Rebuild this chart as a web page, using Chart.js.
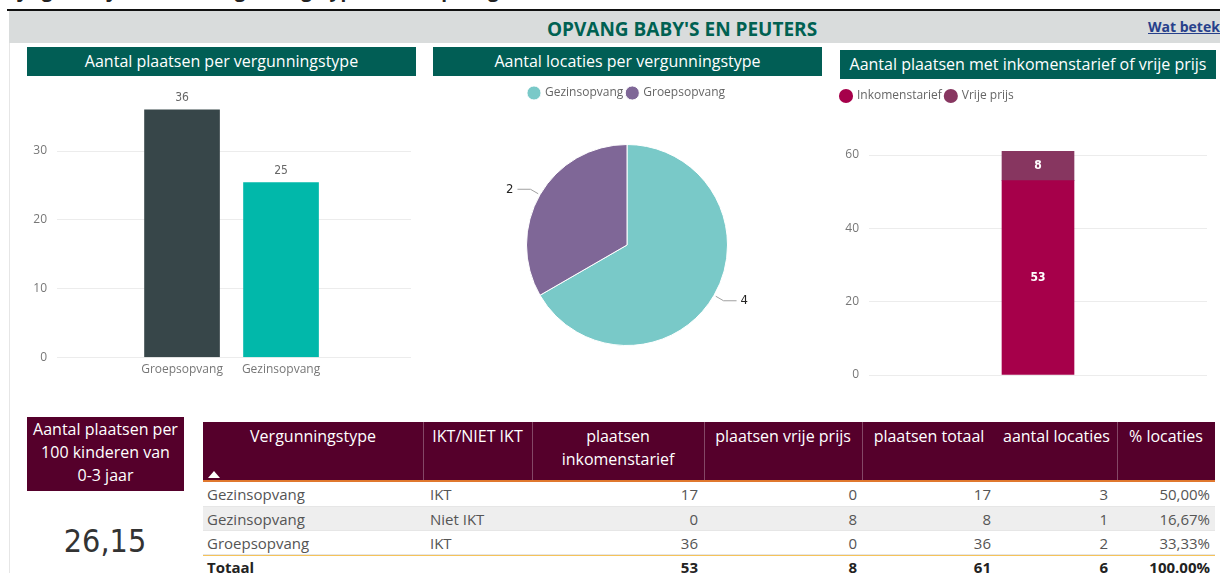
<!DOCTYPE html>
<html><head><meta charset="utf-8">
<script src="https://cdn.jsdelivr.net/npm/chart.js@4.4.0/dist/chart.umd.min.js"></script>
<style>
html,body{margin:0;padding:0}
body{width:1220px;height:573px;overflow:hidden;background:#fff;font-family:"Open Sans",sans-serif;position:relative}
.abs{position:absolute}
.ptitle{position:absolute;background:#015e55;color:#fff;font-size:16px;line-height:29px;height:29px;text-align:center;white-space:nowrap}
.cell{position:absolute;white-space:nowrap;font-size:15px;line-height:24px;color:#555}
.hcell{position:absolute;white-space:nowrap;font-size:16px;line-height:23px;color:#fff;text-align:center}
</style></head>
<body>
<div class="abs" style="left:0;top:-23px;font-size:19px;font-weight:bold;color:#222;white-space:nowrap">Bijlage 2: Cijfers naar vergunningstypes in de opvang</div>
<div class="abs" style="left:7px;top:9px;width:1213px;height:2px;background:#111"></div>
<div class="abs" style="left:9px;top:11px;width:1211px;height:32px;background:#d9dcdc"></div>
<div class="abs" style="left:9px;top:43px;width:1px;height:530px;background:#e6e6e6"></div>
<div class="abs" style="left:432px;top:16px;width:500px;text-align:center;font-size:19px;font-weight:bold;color:#006152;line-height:26px">OPVANG BABY'S EN PEUTERS</div>
<div class="abs" style="left:1148px;top:16px;font-size:14px;font-weight:bold;color:#27408b;text-decoration:underline;white-space:nowrap;line-height:22px">Wat betekenen deze cijfers?</div>

<div class="ptitle" style="left:27px;top:47px;width:389px">Aantal plaatsen per vergunningstype</div>
<div class="ptitle" style="left:433px;top:47px;width:389px">Aantal locaties per vergunningstype</div>
<div class="ptitle" style="left:840px;top:50px;width:376px">Aantal plaatsen met inkomenstarief of vrije prijs</div>

<div class="abs" style="left:20px;top:85px;width:400px;height:300px"><canvas id="c1"></canvas></div>
<div class="abs" style="left:430px;top:81px;width:400px;height:300px"><canvas id="c2"></canvas></div>
<div class="abs" style="left:830px;top:84px;width:390px;height:300px"><canvas id="c3"></canvas></div>

<div class="abs" style="left:27px;top:417px;width:157px;height:74px;background:#55002b"></div>
<div class="abs" id="kpiTitle" style="left:17px;top:418px;width:177px;text-align:center;color:#fff;font-size:16px;line-height:23px"></div>
<div class="abs" id="kpiValue" style="left:25px;top:520px;width:160px;text-align:center;color:#333;font-size:32px;line-height:42px;font-family:'DejaVu Sans Condensed','DejaVu Sans',sans-serif"></div>

<div id="table"></div>

<script>
// ---------- data ----------
const placesCategories = ['Groepsopvang', 'Gezinsopvang'];
const placesValues = [36, 25.4];
const placesTicks = [0, 10, 20, 30];

const locationCategories = ['Gezinsopvang', 'Groepsopvang'];
const locationValues = [4, 2];

const tariffSeries = ['Inkomenstarief', 'Vrije prijs'];
const incomeValues = [53];
const freeValues = [8];
const tariffTicks = [0, 20, 40, 60];

const kpiLabel = ['Aantal plaatsen per', '100 kinderen van', '0-3 jaar'];
const kpiValue = '26,15';

const tableHeaders = ['Vergunningstype', 'IKT/NIET IKT', 'plaatsen<br>inkomenstarief', 'plaatsen vrije prijs', 'plaatsen totaal', 'aantal locaties', '% locaties'];
const tableTypes = ['Gezinsopvang', 'Gezinsopvang', 'Groepsopvang'];
const tableIkt = ['IKT', 'Niet IKT', 'IKT'];
const tableIncome = [17, 0, 36];
const tableFree = [0, 8, 0];
const tableTotal = [17, 8, 36];
const tableLocations = [3, 1, 2];
const tablePct = ['50,00%', '16,67%', '33,33%'];
const tableTotals = ['Totaal', '', '53', '8', '61', '6', '100.00%'];

// ---------- colours ----------
const C = {
  bar1: ['#374649', '#01b8aa'],
  pie: ['#79c9c8', '#7f6797'],
  income: '#a6004a',
  free: '#873660',
  tick: '#777',
  grid: '#ececec'
};
const tickFont = {family: 'Open Sans', size: 12};
const legendFont = {family: 'Open Sans', size: 12};
const dinFont = '"DejaVu Sans Condensed","DejaVu Sans",sans-serif';

function noScalePadding(s) {
  s.paddingTop = 0; s.paddingBottom = 0; s.paddingLeft = 0; s.paddingRight = 0;
}

// ---------- chart 1 ----------
const barTopLabels = {
  id: 'barTopLabels',
  afterDatasetsDraw(chart) {
    const ctx = chart.ctx, meta = chart.getDatasetMeta(0);
    ctx.save();
    ctx.font = '12px ' + dinFont;
    ctx.fillStyle = '#666';
    ctx.textAlign = 'center';
    ctx.textBaseline = 'bottom';
    meta.data.forEach((el, i) => ctx.fillText(String(Math.round(placesValues[i])), el.x, el.y - 6));
    ctx.restore();
  }
};
new Chart(document.getElementById('c1'), {
  type: 'bar',
  data: {
    datasets: [{
      data: placesCategories.map((c, i) => ({x: i, y: placesValues[i]})),
      backgroundColor: C.bar1,
      barThickness: 75,
      borderWidth: 0
    }]
  },
  options: {
    responsive: true, maintainAspectRatio: false, animation: false,
    layout: {padding: {top: 11, right: 9, left: 0, bottom: 0}},
    plugins: {legend: {display: false}, tooltip: {enabled: false}},
    scales: {
      x: {
        type: 'linear', min: -1.263, max: 2.313, offset: false, bounds: 'data',
        grid: {display: false, drawTicks: false}, border: {display: false},
        afterBuildTicks: s => { s.ticks = placesCategories.map((c, i) => ({value: i})); },
        afterFit: s => { s.height = 27.7; noScalePadding(s); },
        ticks: {callback: v => placesCategories[v] || '', color: C.tick, font: tickFont, padding: 5, autoSkip: false, maxRotation: 0}
      },
      y: {
        min: 0, max: 38,
        afterBuildTicks: s => { s.ticks = placesTicks.map(v => ({value: v})); },
        afterFit: s => { s.width = 37; noScalePadding(s); },
        grid: {color: C.grid, drawTicks: false}, border: {display: false},
        ticks: {color: C.tick, font: tickFont, padding: 10}
      }
    }
  },
  plugins: [barTopLabels]
});

// ---------- chart 2 ----------
function legendBox(h, shiftX, shiftY) {
  return {
    id: 'legendBox',
    beforeInit(chart) {
      const orig = chart.legend.fit;
      chart.legend.fit = function () { orig.call(this); this.height = h; };
    },
    afterLayout(chart) {
      const lg = chart.legend;
      lg.left += shiftX; lg.right += shiftX;
      lg.top += shiftY; lg.bottom += shiftY;
    }
  };
}
const pieLabels = {
  id: 'pieLabels',
  afterDatasetsDraw(chart) {
    const ctx = chart.ctx, meta = chart.getDatasetMeta(0);
    ctx.save();
    ctx.strokeStyle = '#a0a0a0';
    ctx.lineWidth = 1;
    ctx.fillStyle = '#252423';
    ctx.font = '13px ' + dinFont;
    ctx.textBaseline = 'middle';
    meta.data.forEach((el, i) => {
      const a = (el.startAngle + el.endAngle) / 2;
      const r = el.outerRadius;
      const dx = Math.cos(a), dy = Math.sin(a);
      const x0 = el.x + dx * (r + 2), y0 = el.y + dy * (r + 2);
      const x1 = el.x + dx * (r + 11), y1 = el.y + dy * (r + 11);
      const s = dx >= 0 ? 1 : -1;
      const x2 = x1 + s * 13;
      ctx.beginPath(); ctx.moveTo(x0, y0); ctx.lineTo(x1, y1); ctx.lineTo(x2, y1); ctx.stroke();
      ctx.textAlign = s > 0 ? 'left' : 'right';
      ctx.fillText(String(locationValues[i]), x2 + s * 4, y1);
    });
    ctx.restore();
  }
};
new Chart(document.getElementById('c2'), {
  type: 'pie',
  data: {
    labels: locationCategories,
    datasets: [{data: locationValues, backgroundColor: C.pie, borderColor: '#fff', borderWidth: 1}]
  },
  options: {
    responsive: true, maintainAspectRatio: false, animation: false,
    layout: {padding: {top: 0, right: 6, left: 0, bottom: 35}},
    plugins: {
      tooltip: {enabled: false},
      legend: {
        position: 'top', align: 'center',
        labels: {usePointStyle: true, pointStyle: 'circle', boxWidth: 10, boxHeight: 10, padding: 4, color: '#666', font: legendFont}
      }
    }
  },
  plugins: [legendBox(63, 0, 2), pieLabels]
});

// ---------- chart 3 ----------
const stackLabels = {
  id: 'stackLabels',
  afterDatasetsDraw(chart) {
    const ctx = chart.ctx;
    ctx.save();
    ctx.font = 'bold 12px ' + dinFont;
    ctx.fillStyle = '#fff';
    ctx.textAlign = 'center';
    ctx.textBaseline = 'middle';
    chart.data.datasets.forEach((ds, di) => {
      chart.getDatasetMeta(di).data.forEach((el, i) => {
        ctx.fillText(String(ds.data[i]), el.x, (el.y + el.base) / 2);
      });
    });
    ctx.restore();
  }
};
new Chart(document.getElementById('c3'), {
  type: 'bar',
  data: {
    labels: [''],
    datasets: [
      {label: tariffSeries[0], data: incomeValues, backgroundColor: C.income, barThickness: 72, borderWidth: 0},
      {label: tariffSeries[1], data: freeValues, backgroundColor: C.free, barThickness: 72, borderWidth: 0}
    ]
  },
  options: {
    responsive: true, maintainAspectRatio: false, animation: false,
    layout: {padding: {top: 0, right: 13, left: 0, bottom: 9}},
    plugins: {
      tooltip: {enabled: false},
      legend: {
        position: 'top', align: 'start',
        labels: {usePointStyle: true, pointStyle: 'circle', boxWidth: 10, boxHeight: 10, padding: 4, color: '#666', font: legendFont}
      }
    },
    scales: {
      x: {stacked: true, display: false},
      y: {
        stacked: true, min: 0, max: 65,
        afterBuildTicks: s => { s.ticks = tariffTicks.map(v => ({value: v})); },
        afterFit: s => { s.width = 39; noScalePadding(s); },
        grid: {color: C.grid, drawTicks: false}, border: {display: false},
        ticks: {color: C.tick, font: tickFont, padding: 10}
      }
    }
  },
  plugins: [legendBox(52.7, 7, 2), stackLabels]
});

// ---------- KPI ----------
document.getElementById('kpiTitle').innerHTML = kpiLabel.join('<br>');
document.getElementById('kpiValue').textContent = kpiValue;

// ---------- table ----------
const cols = [
  {l: 203, r: 423, align: 'left', pad: 4},
  {l: 423, r: 532, align: 'left', pad: 7},
  {l: 532, r: 704, align: 'right', pad: 6},
  {l: 704, r: 862, align: 'right', pad: 5},
  {l: 862, r: 996, align: 'right', pad: 5},
  {l: 996, r: 1117, align: 'right', pad: 9},
  {l: 1117, r: 1215, align: 'right', pad: 5}
];
const T = document.getElementById('table');
let html = '';
html += '<div class="abs" style="left:203px;top:422px;width:1012px;height:59px;background:#55002b"></div>';
[423, 532, 704, 862, 1117].forEach(x => {
  html += `<div class="abs" style="left:${x}px;top:422px;width:1px;height:59px;background:rgba(255,255,255,0.28)"></div>`;
});
tableHeaders.forEach((h, i) => {
  const c = cols[i];
  html += `<div class="hcell" style="left:${c.l - 10}px;top:425px;width:${c.r - c.l + 20}px">${h}</div>`;
});
html += '<div class="abs" style="left:208px;top:471px;width:0;height:0;border-left:6px solid transparent;border-right:6px solid transparent;border-bottom:7px solid #fff"></div>';
html += '<div class="abs" style="left:203px;top:480px;width:1012px;height:2px;background:#e0782f"></div>';
const rowTops = [482, 507, 531];
rowTops.forEach((t, ri) => {
  const bg = ri === 1 ? '#eeeeee' : '#fff';
  html += `<div class="abs" style="left:203px;top:${t}px;width:1012px;height:${ri === 0 ? 25 : 24}px;background:${bg};border-bottom:1px solid #e6e6e6;box-sizing:border-box"></div>`;
  const vals = [tableTypes[ri], tableIkt[ri], tableIncome[ri], tableFree[ri], tableTotal[ri], tableLocations[ri], tablePct[ri]];
  vals.forEach((v, ci) => {
    const c = cols[ci];
    const style = c.align === 'left'
      ? `left:${c.l + c.pad}px`
      : `left:${c.l}px;width:${c.r - c.l - c.pad}px;text-align:right`;
    html += `<div class="cell" style="${style};top:${t}px">${v}</div>`;
  });
});
html += '<div class="abs" style="left:203px;top:555px;width:1012px;height:1px;background:#f5c35a"></div>';
tableTotals.forEach((v, ci) => {
  const c = cols[ci];
  const style = c.align === 'left'
    ? `left:${c.l + c.pad}px`
    : `left:${c.l}px;width:${c.r - c.l - c.pad}px;text-align:right`;
  html += `<div class="cell" style="${style};top:555px;font-weight:bold;color:#222">${v}</div>`;
});
T.innerHTML = html;
</script>
</body></html>
